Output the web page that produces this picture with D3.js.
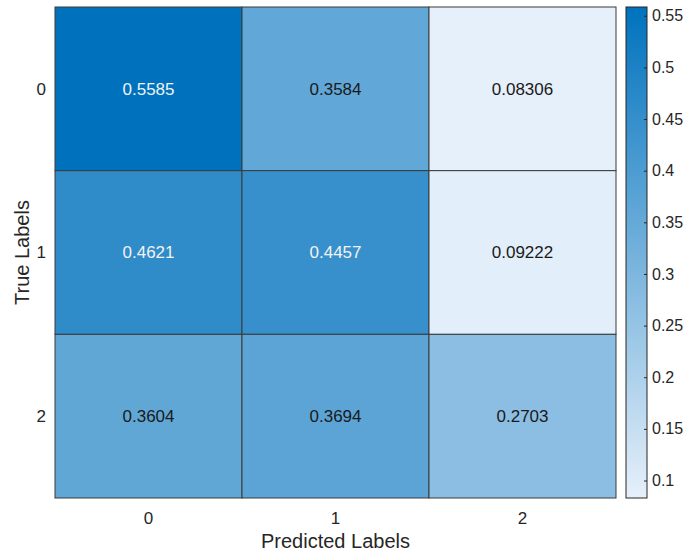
<!DOCTYPE html>
<html>
<head>
<meta charset="utf-8">
<script src="https://cdn.jsdelivr.net/npm/d3@7"></script>
<style>
  body { margin: 0; background: #fff; }
  text { font-family: "Liberation Sans", Arial, sans-serif; }
</style>
</head>
<body>
<div id="canvas"></div>
<script>
const trueLabels = ["0", "1", "2"];
const predLabels = ["0", "1", "2"];
// rows = true label, columns = predicted label
const values = [
  [0.5585, 0.3584, 0.08306],
  [0.4621, 0.4457, 0.09222],
  [0.3604, 0.3694, 0.2703]
];
const cbTicks = [0.1, 0.15, 0.2, 0.25, 0.3, 0.35, 0.4, 0.45, 0.5, 0.55];

const W = 685, H = 553;
let margin = { top: 7, left: 55, right: 616, bottom: 498 };

let svg = d3.select("#canvas")
  .append("svg")
  .attr("width", W)
  .attr("height", H);

let cells = [];
values.forEach((row, i) => row.forEach((v, j) => cells.push({ t: trueLabels[i], p: predLabels[j], v: v })));

let allV = cells.map(d => d.v);
let vmin = d3.min(allV), vmax = d3.max(allV);

let x = d3.scaleBand().domain(predLabels).range([margin.left, margin.right]);
let y = d3.scaleBand().domain(trueLabels).range([margin.top, margin.bottom]);
let color = d3.scaleLinear().domain([vmin, vmax]).range(["#e6f0fa", "#0072bd"]);

// cells
svg.selectAll(".cell")
  .data(cells)
  .enter()
  .append("rect")
  .attr("class", "cell")
  .attr("x", d => x(d.p))
  .attr("y", d => y(d.t))
  .attr("width", x.bandwidth())
  .attr("height", y.bandwidth())
  .attr("fill", d => color(d.v))
  .attr("stroke", "#3a3a3a")
  .attr("stroke-width", 1);

svg.selectAll(".cell-label")
  .data(cells)
  .enter()
  .append("text")
  .attr("class", "cell-label")
  .attr("x", d => x(d.p) + x.bandwidth() / 2)
  .attr("y", d => y(d.t) + y.bandwidth() / 2)
  .attr("dy", "0.35em")
  .attr("text-anchor", "middle")
  .style("font-size", "17px")
  .style("fill", d => d.v > 0.4 ? "#f2f2f2" : "#1a1a1a")
  .text(d => d.v);

// tick labels
svg.selectAll(".ylab")
  .data(trueLabels)
  .enter()
  .append("text")
  .attr("x", 46)
  .attr("y", d => y(d) + y.bandwidth() / 2)
  .attr("dy", "0.35em")
  .attr("text-anchor", "end")
  .style("font-size", "17px")
  .style("fill", "#262626")
  .text(d => d);

svg.selectAll(".xlab")
  .data(predLabels)
  .enter()
  .append("text")
  .attr("x", d => x(d) + x.bandwidth() / 2)
  .attr("y", 518)
  .attr("dy", "0.35em")
  .attr("text-anchor", "middle")
  .style("font-size", "17px")
  .style("fill", "#262626")
  .text(d => d);

// axis titles
svg.append("text")
  .attr("x", (margin.left + margin.right) / 2)
  .attr("y", 541)
  .attr("dy", "0.35em")
  .attr("text-anchor", "middle")
  .style("font-size", "20px")
  .style("fill", "#262626")
  .text("Predicted Labels");

svg.append("text")
  .attr("transform", "translate(22," + (margin.top + margin.bottom) / 2 + ") rotate(-90)")
  .attr("dy", "0.35em")
  .attr("text-anchor", "middle")
  .style("font-size", "20px")
  .style("fill", "#262626")
  .text("True Labels");

// colorbar
let cbX = 626, cbW = 21;
let cbScale = d3.scaleLinear().domain([vmin, vmax]).range([margin.bottom, margin.top]);

let defs = svg.append("defs");
let grad = defs.append("linearGradient")
  .attr("id", "cbgrad")
  .attr("x1", 0).attr("y1", 1).attr("x2", 0).attr("y2", 0);
grad.append("stop").attr("offset", "0%").attr("stop-color", color(vmin));
grad.append("stop").attr("offset", "100%").attr("stop-color", color(vmax));

svg.append("rect")
  .attr("x", cbX)
  .attr("y", margin.top)
  .attr("width", cbW)
  .attr("height", margin.bottom - margin.top)
  .attr("fill", "url(#cbgrad)")
  .attr("stroke", "#262626")
  .attr("stroke-width", 1);

let cbAxis = svg.append("g")
  .attr("transform", "translate(" + (cbX + cbW) + ",0)")
  .call(d3.axisRight(cbScale).tickValues(cbTicks).tickSize(-3).tickPadding(5).tickFormat(d3.format("")));

cbAxis.select(".domain").remove();
cbAxis.selectAll("line").attr("stroke", "#262626");
cbAxis.selectAll("text")
  .style("font-size", "16px")
  .style("fill", "#262626")
  .style("font-family", "'Liberation Sans', Arial, sans-serif");
</script>
</body>
</html>
